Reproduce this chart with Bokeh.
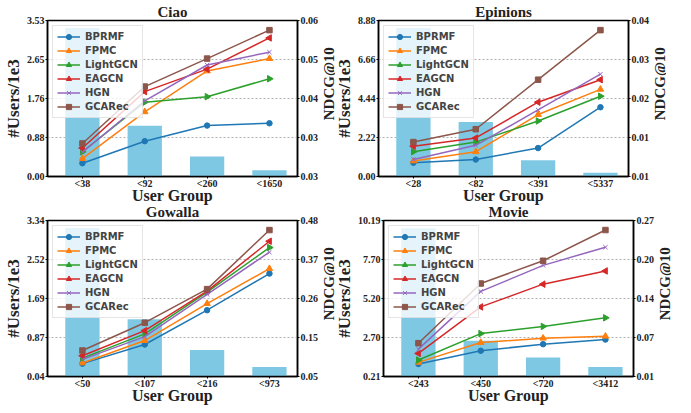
import math
import numpy as np
from bokeh.plotting import figure
from bokeh.models import Range1d, LinearAxis, FixedTicker, Legend, LegendItem
from bokeh.core.properties import value
from bokeh.layouts import column, row
from bokeh.embed import file_html
from bokeh.resources import INLINE

methods = ["BPRMF", "FPMC", "LightGCN", "EAGCN", "HGN", "GCARec"]

# ---- Ciao ----
ciao_groups = ["<38", "<92", "<260", "<1650"]
ciao_users = [3.36, 1.15, 0.45, 0.14]
ciao_user_ticks = ["0.00", "0.88", "1.76", "2.65", "3.53"]
ciao_ndcg_ticks = ["0.03", "0.03", "0.04", "0.05", "0.06"]
ciao_ndcg_lim = [0.026, 0.060]
ciao_bprmf = [0.0289, 0.0337, 0.0371, 0.0376]
ciao_fpmc = [0.0299, 0.0401, 0.0490, 0.0517]
ciao_lightgcn = [0.0314, 0.0422, 0.0434, 0.0473]
ciao_eagcn = [0.0322, 0.0445, 0.0494, 0.0562]
ciao_hgn = [0.0313, 0.0425, 0.0503, 0.0531]
ciao_gcarec = [0.0332, 0.0456, 0.0517, 0.0579]

# ---- Epinions ----
epi_groups = ["<28", "<82", "<391", "<5337"]
epi_users = [8.46, 3.10, 0.92, 0.21]
epi_user_ticks = ["0.00", "2.22", "4.44", "6.66", "8.88"]
epi_ndcg_ticks = ["0.01", "0.01", "0.02", "0.03", "0.04"]
epi_ndcg_lim = [0.006, 0.040]
epi_bprmf = [0.0090, 0.0097, 0.0122, 0.0211]
epi_fpmc = [0.0094, 0.0114, 0.0195, 0.0250]
epi_lightgcn = [0.0114, 0.0135, 0.0181, 0.0235]
epi_eagcn = [0.0126, 0.0144, 0.0222, 0.0271]
epi_hgn = [0.0097, 0.0128, 0.0205, 0.0283]
epi_gcarec = [0.0135, 0.0163, 0.0271, 0.0379]

# ---- Gowalla ----
gow_groups = ["<50", "<107", "<216", "<973"]
gow_users = [3.18, 1.25, 0.60, 0.24]
gow_user_ticks = ["0.04", "0.87", "1.69", "2.52", "3.34"]
gow_ndcg_ticks = ["0.05", "0.15", "0.26", "0.37", "0.48"]
gow_ndcg_lim = [0.046, 0.478]
gow_bprmf = [0.0816, 0.1346, 0.2296, 0.3310]
gow_fpmc = [0.0835, 0.1456, 0.2479, 0.3447]
gow_lightgcn = [0.0970, 0.1640, 0.2798, 0.4031]
gow_eagcn = [0.1035, 0.1730, 0.2826, 0.4205]
gow_hgn = [0.0935, 0.1565, 0.2734, 0.3903]
gow_gcarec = [0.1180, 0.1950, 0.2880, 0.4515]

# ---- Movie ----
mov_groups = ["<243", "<450", "<720", "<3412"]
mov_users = [9.70, 2.49, 1.43, 0.82]
mov_user_ticks = ["0.21", "2.70", "5.20", "7.70", "10.19"]
mov_ndcg_ticks = ["0.01", "0.07", "0.14", "0.20", "0.27"]
mov_ndcg_lim = [0.008, 0.268]
mov_bprmf = [0.0289, 0.0509, 0.0619, 0.0696]
mov_fpmc = [0.0316, 0.0646, 0.0718, 0.0751]
mov_lightgcn = [0.0355, 0.0795, 0.0915, 0.1058]
mov_eagcn = [0.0465, 0.1240, 0.1619, 0.1839]
mov_hgn = [0.0536, 0.1498, 0.1932, 0.2235]
mov_gcarec = [0.0635, 0.1630, 0.2009, 0.2521]

COLORS = ["#1f77b4", "#ff7f0e", "#2ca02c", "#d62728", "#9467bd", "#8c564b"]
MARKERS = [("circle", 0.0, 5.5), ("triangle", 0.0, 6.5), ("triangle", -math.pi / 2, 6.5),
           ("triangle", math.pi / 2, 6.5), ("x", 0.0, 6), ("square", 0.0, 5.5)]
BAR_COLOR = "#7EC8E3"
SERIF = "Liberation Serif"
FW, FH, TOP = 250, 156, 12


def make(title, groups, users, user_ticks, ndcg_ticks, ndcg_lim, series):
    lo, hi = float(user_ticks[0]), float(user_ticks[-1])
    p = figure(frame_width=FW, frame_height=FH, x_range=Range1d(-0.56, 3.45),
               y_range=Range1d(lo, hi), output_backend="svg", toolbar_location=None,
               title=title, min_border_left=43, min_border_right=18,
               min_border_top=0, min_border_bottom=0)
    p.border_fill_alpha = 0
    p.extra_y_ranges = {"ndcg": Range1d(ndcg_lim[0], ndcg_lim[1])}
    xs = list(range(len(groups)))
    p.vbar(x=xs, top=users, bottom=lo, width=0.55, fill_color=BAR_COLOR, line_color=None)

    items = []
    for name, vals, col, (mk, ang, sz) in zip(methods, series, COLORS, MARKERS):
        lr = p.line(xs, vals, y_range_name="ndcg", line_color=col, line_width=1.5)
        sr = p.scatter(xs, vals, y_range_name="ndcg", marker=mk, angle=ang, size=sz,
                       fill_color=col, line_color=col)
        items.append(LegendItem(label=name, renderers=[lr, sr]))

    lt = [float(v) for v in np.linspace(lo, hi, 5)]
    p.yaxis[0].ticker = FixedTicker(ticks=lt)
    p.yaxis[0].major_label_overrides = {t: s for t, s in zip(lt, user_ticks)}
    p.yaxis[0].axis_label = "#Users/1e3"
    p.ygrid.ticker = FixedTicker(ticks=lt)
    p.ygrid.grid_line_color = "#b0b0b0"
    p.ygrid.grid_line_dash = "2 2"
    p.ygrid.grid_line_width = 1
    p.xgrid.visible = False

    rt = [float(v) for v in np.linspace(ndcg_lim[0], ndcg_lim[1], 5)]
    rax = LinearAxis(y_range_name="ndcg", ticker=FixedTicker(ticks=rt),
                     major_label_overrides={t: s for t, s in zip(rt, ndcg_ticks)})
    p.add_layout(rax, "right")

    p.xaxis[0].ticker = FixedTicker(ticks=xs)
    p.xaxis[0].major_label_overrides = {x: g for x, g in zip(xs, groups)}
    p.xaxis[0].axis_label = "User Group"

    for ax in [p.yaxis[0], rax, p.xaxis[0]]:
        ax.axis_line_color = "black"
        ax.axis_line_width = 1.5
        ax.major_tick_line_color = "black"
        ax.major_tick_out = 2
        ax.major_tick_in = 0
        ax.minor_tick_out = 0
        ax.minor_tick_in = 0
        ax.major_label_text_font = SERIF
        ax.major_label_text_font_style = "bold"
        ax.major_label_text_font_size = "10px"
        ax.major_label_text_color = "#222222"
        ax.major_label_standoff = 1
        ax.axis_label_text_font = SERIF
        ax.axis_label_text_font_style = "bold"
        ax.axis_label_text_color = "#222222"
        ax.axis_label_standoff = 1
    p.yaxis[0].axis_label_text_font_size = "17px"
    p.xaxis[0].axis_label_text_font_size = "16px"
    p.xaxis[0].axis_label_standoff = -5
    p.xaxis[0].major_label_standoff = -1

    p.outline_line_color = "black"
    p.outline_line_width = 1.5
    p.title.text_font = SERIF
    p.title.text_font_style = "bold"
    p.title.text_font_size = "15px"
    p.title.align = "center"
    p.title.standoff = 2
    p.title.text_color = "#222222"

    leg = Legend(items=items, location="top_left")
    leg.label_text_font = "DejaVu Sans"
    leg.label_text_font_style = "bold"
    leg.label_text_font_size = "10px"
    leg.glyph_width = 23
    leg.glyph_height = 13
    leg.label_height = 13
    leg.spacing = 1
    leg.padding = 4
    leg.margin = 5
    leg.label_standoff = 5
    leg.border_line_color = "#cccccc"
    leg.background_fill_alpha = 0.8
    p.add_layout(leg)
    return p


def side_label(text):
    s = figure(width=14, height=TOP + FH, x_range=Range1d(0, 1), y_range=Range1d(0, TOP + FH),
               x_axis_type=None, y_axis_type=None, output_backend="svg",
               toolbar_location=None, min_border=0)
    s.outline_line_color = None
    s.border_fill_alpha = 0
    s.background_fill_alpha = 0
    s.text(x=[0.5], y=[FH / 2], text=[text], angle=math.pi / 2, text_align="center",
           text_baseline="middle", text_font=value(SERIF), text_font_style="bold",
           text_font_size="15px", text_color="#222222")
    return s


p1 = make("Ciao", ciao_groups, ciao_users, ciao_user_ticks, ciao_ndcg_ticks, ciao_ndcg_lim,
          [ciao_bprmf, ciao_fpmc, ciao_lightgcn, ciao_eagcn, ciao_hgn, ciao_gcarec])
p2 = make("Epinions", epi_groups, epi_users, epi_user_ticks, epi_ndcg_ticks, epi_ndcg_lim,
          [epi_bprmf, epi_fpmc, epi_lightgcn, epi_eagcn, epi_hgn, epi_gcarec])
p3 = make("Gowalla", gow_groups, gow_users, gow_user_ticks, gow_ndcg_ticks, gow_ndcg_lim,
          [gow_bprmf, gow_fpmc, gow_lightgcn, gow_eagcn, gow_hgn, gow_gcarec])
p4 = make("Movie", mov_groups, mov_users, mov_user_ticks, mov_ndcg_ticks, mov_ndcg_lim,
          [mov_bprmf, mov_fpmc, mov_lightgcn, mov_eagcn, mov_hgn, mov_gcarec])
p2.margin = (0, 0, 0, -4)
p4.margin = (0, 0, 0, -4)

row1 = row(p1, side_label("NDCG@10"), p2, side_label("NDCG@10"))
row2 = row(p3, side_label("NDCG@10"), p4, side_label("NDCG@10"))
row2.margin = (-6, 0, 0, 0)
layout = column(row1, row2)
open("out.html", "w").write(file_html(layout, INLINE))
